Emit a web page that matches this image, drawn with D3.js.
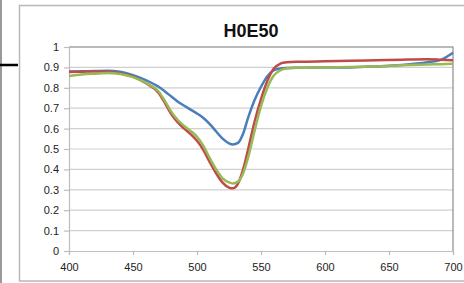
<!DOCTYPE html>
<head>
    <script src="https://d3js.org/d3.v7.min.js" charset="utf-8"></script>
    <style>
        body { margin: 0; background: #fff; }
        text { font-family: "Liberation Sans", Arial, sans-serif; }
    </style>
</head>
<body>
    <div id="container"></div>
    <script>
    var title = "H0E50";
    var wavelengths = [400, 410, 420, 430, 440, 450, 460, 470, 475, 480, 485, 490, 495, 500, 505, 510, 515, 520, 525, 528, 532, 536,
                       540, 545, 550, 555, 560, 565, 570, 580, 600, 620, 640, 660, 680, 690, 700];
    var blue = [0.880, 0.881, 0.882, 0.884, 0.879, 0.862, 0.838, 0.805, 0.782, 0.757, 0.732, 0.712, 0.693, 0.674, 0.652, 0.622, 0.586, 0.551, 0.528, 0.522, 0.530, 0.575,
                0.655, 0.740, 0.805, 0.857, 0.886, 0.895, 0.897, 0.898, 0.899, 0.900, 0.905, 0.912, 0.925, 0.936, 0.972];
    var red = [0.878, 0.879, 0.880, 0.879, 0.872, 0.855, 0.822, 0.775, 0.725, 0.670, 0.630, 0.600, 0.573, 0.540, 0.495, 0.435, 0.380, 0.335, 0.311, 0.307, 0.330, 0.400,
               0.500, 0.635, 0.745, 0.835, 0.895, 0.918, 0.925, 0.928, 0.930, 0.932, 0.935, 0.938, 0.940, 0.938, 0.935];
    var green = [0.858, 0.865, 0.869, 0.872, 0.868, 0.852, 0.824, 0.782, 0.735, 0.682, 0.642, 0.613, 0.589, 0.560, 0.515, 0.455, 0.400, 0.356, 0.336, 0.331, 0.340, 0.380,
                 0.460, 0.590, 0.710, 0.800, 0.860, 0.885, 0.895, 0.898, 0.900, 0.902, 0.905, 0.910, 0.914, 0.916, 0.918];
    var xTicks = [400, 450, 500, 550, 600, 650, 700];
    var yTicks = [0, 0.1, 0.2, 0.3, 0.4, 0.5, 0.6, 0.7, 0.8, 0.9, 1];

    var series = [
        {name: "blue", values: blue, color: "#4a7ebb"},
        {name: "red", values: red, color: "#be4b48"},
        {name: "green", values: green, color: "#98b954"}
    ];

    var width = 464, height = 283;
    var svg = d3.select("#container").append("svg")
        .attr("width", width)
        .attr("height", height);

    // outer chart frame (runs off the right edge)
    svg.append("rect")
        .attr("x", 19.5).attr("y", 5.5)
        .attr("width", 470).attr("height", 275.5)
        .attr("fill", "#fff")
        .attr("stroke", "#b8b8b8")
        .attr("stroke-width", 1.5);

    // bits of the neighbouring drawing on the left
    svg.append("line")
        .attr("x1", 1).attr("x2", 1).attr("y1", 0).attr("y2", height)
        .attr("stroke", "#777").attr("stroke-width", 1.5);
    svg.append("line")
        .attr("x1", 0).attr("x2", 18).attr("y1", 65).attr("y2", 65)
        .attr("stroke", "#000").attr("stroke-width", 2.5);

    var x = d3.scaleLinear().domain([400, 700]).range([69, 453]);
    var y = d3.scaleLinear().domain([0, 1]).range([251, 47]);

    // gridlines
    svg.append("g")
        .selectAll("line")
        .data(yTicks.slice(1))
        .join("line")
        .attr("x1", x(400)).attr("x2", x(700))
        .attr("y1", function (d) { return y(d); })
        .attr("y2", function (d) { return y(d); })
        .attr("stroke", "#d0d0d0")
        .attr("stroke-width", 1.2);

    // plot area border (top/right darker)
    svg.append("path")
        .attr("d", "M" + x(400) + "," + y(1) + "H" + x(700) + "V" + y(0))
        .attr("fill", "none")
        .attr("stroke", "#8c8c8c")
        .attr("stroke-width", 1.2);

    var xAxis = svg.append("g")
        .attr("transform", "translate(0," + y(0) + ")")
        .call(d3.axisBottom(x).tickValues(xTicks).tickSize(4).tickPadding(8).tickFormat(d3.format("d")));
    var yAxis = svg.append("g")
        .attr("transform", "translate(" + x(400) + ",0)")
        .call(d3.axisLeft(y).tickValues(yTicks).tickSize(5).tickPadding(5)
            .tickFormat(function (d) { return d === 0 ? "0" : d === 1 ? "1" : d3.format(".1f")(d); }));

    [xAxis, yAxis].forEach(function (g) {
        g.select(".domain").attr("stroke", "#bdbdbd").attr("stroke-width", 1.2);
        g.selectAll(".tick line").attr("stroke", "#bdbdbd").attr("stroke-width", 1.2);
        g.selectAll("text")
            .attr("fill", "#222")
            .style("font-size", "11px")
            .style("font-family", "'Liberation Sans', Arial, sans-serif");
    });

    var line = d3.line()
        .x(function (d, i) { return x(wavelengths[i]); })
        .y(function (d) { return y(d); })
        .curve(d3.curveMonotoneX);

    svg.append("g")
        .selectAll("path")
        .data(series)
        .join("path")
        .attr("d", function (s) { return line(s.values); })
        .attr("fill", "none")
        .attr("stroke", function (s) { return s.color; })
        .attr("stroke-width", 2.5)
        .attr("stroke-linejoin", "round");

    svg.append("text")
        .attr("x", 251)
        .attr("y", 37)
        .attr("text-anchor", "middle")
        .style("font-size", "18px")
        .style("font-weight", "bold")
        .attr("fill", "#111")
        .text(title);
    </script>
</body>
